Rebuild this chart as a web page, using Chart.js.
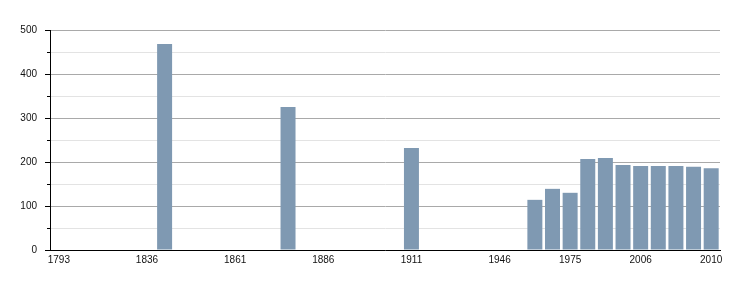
<!DOCTYPE html>
<html>
<head>
<meta charset="utf-8">
<script src="https://cdn.jsdelivr.net/npm/chart.js@4"></script>
<style>
html,body{margin:0;padding:0;background:#fff;}
#wrap{width:750px;height:300px;}
</style>
</head>
<body>
<div id="wrap"><canvas id="c" width="750" height="300"></canvas></div>
<script>
const years = ['1793','1800','1806','1821','1831','1836','1841','1846','1851','1856','1861','1866','1872','1876','1881','1886','1891','1896','1901','1906','1911','1921','1926','1931','1936','1946','1954','1962','1968','1975','1982','1990','1999','2006','2007','2008','2009','2010'];
const population = [null,null,null,null,null,null,468,null,null,null,null,null,null,325,null,null,null,null,null,null,232,null,null,null,null,null,null,114,139,130,207,209,193,191,191,191,189,186];
const xTickLabels = ['1793','1836','1861','1886','1911','1946','1975','2006','2010'];
const yTicks = [0,100,200,300,400,500];

const minorTicks = {
  id:'minorTicks',
  afterDraw(chart){
    const y = chart.scales.y, ctx = chart.ctx;
    ctx.save();
    ctx.strokeStyle = '#000';
    ctx.lineWidth = 1;
    y.ticks.forEach((t,i)=>{
      const py = Math.round(y.getPixelForTick(i)) + 0.5;
      const len = yTicks.includes(t.value) ? 5 : 3;
      ctx.beginPath();
      ctx.moveTo(y.right - len, py);
      ctx.lineTo(y.right, py);
      ctx.stroke();
    });
    ctx.restore();
  }
};

new Chart(document.getElementById('c'), {
  type:'bar',
  data:{
    labels: years,
    datasets:[{
      data: population,
      backgroundColor:'#7f99b2',
      borderWidth:0,
      categoryPercentage:1,
      barPercentage:0.85
    }]
  },
  options:{
    responsive:false,
    animation:false,
    events:[],
    layout:{padding:{top:30,right:30,bottom:30,left:0}},
    plugins:{legend:{display:false},tooltip:{enabled:false}},
    scales:{
      x:{
        grid:{display:false, drawTicks:false},
        border:{display:true,color:'#000',width:1},
        ticks:{
          autoSkip:false, maxRotation:0, minRotation:0, padding:4,
          color:'#111', font:{family:'Liberation Sans', size:10},
          callback:function(v,i){ return xTickLabels.includes(years[i]) ? years[i] : ''; }
        },
        afterFit(s){ s.height = 20; }
      },
      y:{
        min:0, max:500,
        grid:{
          drawTicks:false,
          color:(ctx)=> (ctx.tick && ctx.tick.value % 100 === 0) ? '#a9a9a9' : '#e3e3e3',
          lineWidth:1
        },
        border:{display:true,color:'#000',width:1},
        ticks:{
          stepSize:50, padding:13, color:'#111',
          font:{family:'Liberation Sans', size:10},
          callback:(v)=> yTicks.includes(v) ? String(v) : ''
        },
        afterFit(s){ s.width = 50; }
      }
    }
  },
  plugins:[minorTicks]
});
</script>
</body>
</html>
